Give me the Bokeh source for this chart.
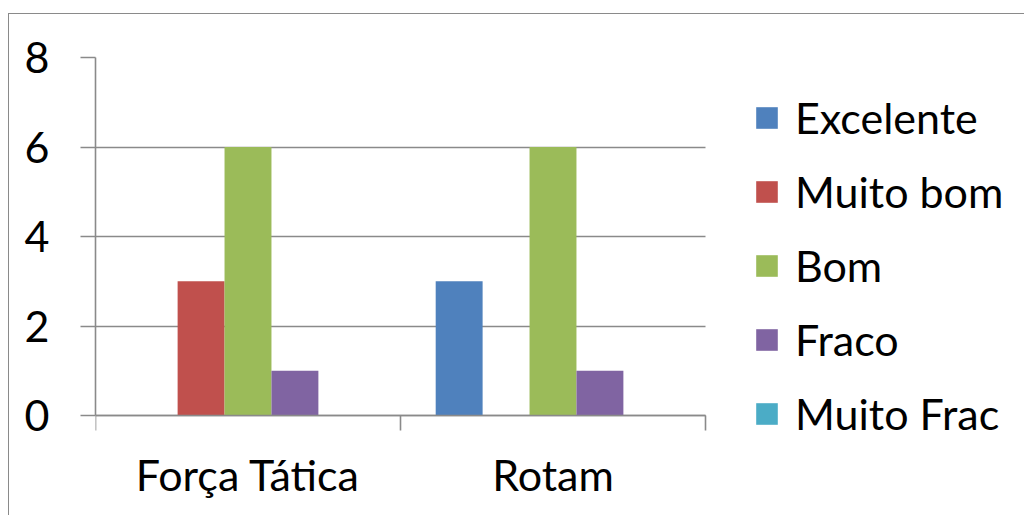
from bokeh.plotting import figure
from bokeh.models import Range1d, FixedTicker, Legend, LegendItem
from bokeh.embed import file_html
from bokeh.resources import INLINE

categories = ["Força Tática", "Rotam"]
series = ["Excelente", "Muito bom", "Bom", "Fraco", "Muito Frac"]
excelente = [0, 3]
muito_bom = [3, 0]
bom = [6, 6]
fraco = [1, 1]
muito_frac = [0, 0]
y_ticks = [0, 2, 4, 6, 8]

values = [excelente, muito_bom, bom, fraco, muito_frac]
colors = ["#4F81BD", "#C0504D", "#9BBB59", "#8064A2", "#4BACC6"]
FONT = "Lato"
GRAY = "#8A8A8A"
LW = 1.6
FS = "43px"

# layout (pixels): plot area 95..705 x 57..415 inside a 1024x515 canvas
W, H = 1024, 515
PL, PR, PT, PB = 95, 705, 57, 415
n = len(categories)
ymax = y_ticks[-1]
x_end = n * (W - PL) / (PR - PL)
y_start = -ymax * (H - PB) / (PB - PT)

p = figure(width=W, height=H, output_backend="svg", toolbar_location=None,
           x_range=Range1d(0, x_end), y_range=Range1d(y_start, ymax),
           min_border_left=PL, min_border_right=0, min_border_top=PT, min_border_bottom=0)
p.outline_line_color = None
p.background_fill_color = "white"
p.border_fill_color = "white"
p.stylesheets = [":host { position: relative; } :host::after { content: ''; position: absolute; "
                 "left: 8px; top: 13px; width: 1100px; height: 600px; box-sizing: border-box; "
                 "border: 1.6px solid #8A8A8A; pointer-events: none; z-index: 100; }"]

bw = 1.0 / (len(series) + 1.5)
renderers = []
for j, (name, vals) in enumerate(zip(series, values)):
    xs = [i + 0.5 + (j - (len(series) - 1) / 2) * bw for i in range(n)]
    r = p.vbar(x=xs, top=vals, width=bw, bottom=0, fill_color=colors[j], line_color=None)
    renderers.append((name, r))

# y axis
p.yaxis.ticker = FixedTicker(ticks=y_ticks)
p.yaxis.bounds = (0, ymax)
p.yaxis.axis_line_color = GRAY
p.yaxis.axis_line_width = LW
p.yaxis.major_tick_line_color = GRAY
p.yaxis.major_tick_line_width = LW
p.yaxis.major_tick_out = 15
p.yaxis.major_tick_in = 0
p.yaxis.minor_tick_line_color = None
p.yaxis.major_label_standoff = 31
p.yaxis.major_label_text_font = FONT
p.yaxis.major_label_text_font_size = FS
p.yaxis.major_label_text_color = "black"

# x axis (drawn at y = 0)
xa = p.xaxis[0]
xa.fixed_location = 0
xa.bounds = (0, n)
xa.ticker = FixedTicker(ticks=[i + 0.5 for i in range(n)], minor_ticks=list(range(n + 1)))
xa.major_label_overrides = {i + 0.5: c for i, c in enumerate(categories)}
xa.axis_line_color = GRAY
xa.axis_line_width = LW
xa.major_tick_line_color = None
xa.major_tick_out = 0
xa.major_tick_in = 0
xa.minor_tick_line_color = GRAY
xa.minor_tick_line_width = LW
xa.minor_tick_out = 15
xa.minor_tick_in = 0
xa.major_label_standoff = 18
xa.major_label_text_font = FONT
xa.major_label_text_font_size = FS
xa.major_label_text_color = "black"

p.xgrid.grid_line_color = None
yg = p.ygrid[0]
yg.ticker = FixedTicker(ticks=y_ticks)
yg.bounds = (0, ymax)
if "cross_bounds" in yg.properties():
    yg.cross_bounds = (0, n)
    yg.grid_line_color = GRAY
    yg.grid_line_width = LW
else:
    yg.grid_line_color = None
    p.segment(x0=[0] * len(y_ticks), x1=[n] * len(y_ticks), y0=y_ticks, y1=y_ticks,
              line_color=GRAY, line_width=LW, level="underlay")

legend = Legend(items=[LegendItem(label=nm, renderers=[r]) for nm, r in renderers],
                location=(753 - PL, 76), padding=0, margin=0, spacing=23,
                glyph_width=27, glyph_height=27, label_standoff=15,
                label_text_font=FONT, label_text_font_size=FS,
                label_text_color="black", border_line_color=None,
                background_fill_alpha=0)
p.add_layout(legend, "center")

open("out.html", "w").write(file_html(p, INLINE))
